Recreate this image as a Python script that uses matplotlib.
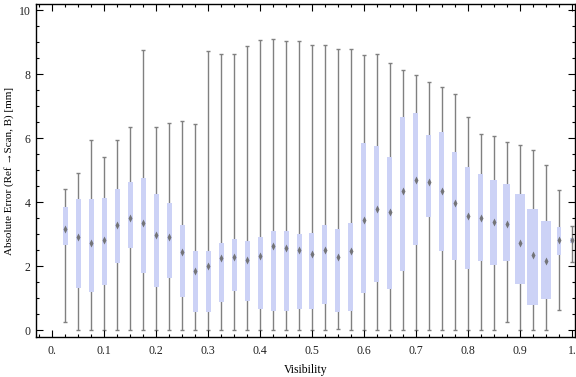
import matplotlib
matplotlib.use('Agg')
import matplotlib.pyplot as plt
from matplotlib.patches import Rectangle
from matplotlib.ticker import MultipleLocator, FixedLocator

# box-whisker stats per visibility bin
visibility = [0.025, 0.05, 0.075, 0.1, 0.125, 0.15, 0.175, 0.2, 0.225, 0.25,
              0.275, 0.3, 0.325, 0.35, 0.375, 0.4, 0.425, 0.45, 0.475, 0.5,
              0.525, 0.55, 0.575, 0.6, 0.625, 0.65, 0.675, 0.7, 0.725, 0.75,
              0.775, 0.8, 0.825, 0.85, 0.875, 0.9, 0.925, 0.95, 0.975, 1.0]
whisker_lo = [0.25, 0.02, 0.0, 0.0, 0.0, 0.0, 0.0, 0.0, 0.0, 0.0,
              0.0, 0.0, 0.0, 0.0, 0.0, 0.0, 0.0, 0.0, 0.0, 0.0,
              0.0, 0.05, 0.0, 0.0, 0.02, 0.0, 0.0, 0.0, 0.0, 0.0,
              0.0, 0.0, 0.0, 0.02, 0.27, 0.0, 0.0, 0.0, 0.63, 2.15]
q1 = [2.67, 1.32, 1.19, 1.43, 2.10, 2.58, 1.80, 1.36, 1.65, 1.03,
      0.57, 0.57, 0.89, 1.23, 0.92, 0.67, 0.59, 0.61, 0.65, 0.67,
      0.81, 0.57, 0.61, 1.17, 1.51, 1.29, 1.86, 2.67, 3.55, 2.49,
      2.20, 1.92, 2.17, 2.03, 2.18, 1.45, 0.79, 0.98, 2.36, 2.74]
median = [3.18, 2.92, 2.73, 2.82, 3.29, 3.50, 3.34, 2.98, 2.92, 2.44,
          1.85, 2.02, 2.27, 2.28, 2.19, 2.32, 2.63, 2.57, 2.52, 2.39,
          2.51, 2.30, 2.47, 3.45, 3.78, 3.69, 4.35, 4.70, 4.62, 4.36,
          3.98, 3.57, 3.51, 3.39, 3.31, 2.74, 2.36, 2.17, 2.81, 2.82]
q3 = [3.85, 4.10, 4.10, 4.12, 4.42, 4.64, 4.76, 4.26, 3.98, 3.28,
      2.48, 2.48, 2.73, 2.85, 2.79, 2.92, 3.10, 3.10, 3.01, 3.04,
      3.29, 3.17, 3.35, 5.85, 5.77, 5.41, 6.68, 6.80, 6.10, 6.20,
      5.57, 5.10, 4.89, 4.70, 4.58, 4.26, 3.78, 3.42, 3.22, 2.89]
whisker_hi = [4.41, 4.91, 5.95, 5.41, 5.95, 6.35, 8.76, 6.37, 6.48, 6.54,
              6.45, 8.73, 8.65, 8.65, 8.90, 9.08, 9.11, 9.05, 9.05, 8.92,
              8.92, 8.80, 8.80, 8.61, 8.65, 8.37, 8.14, 7.98, 7.77, 7.61,
              7.38, 6.67, 6.13, 6.07, 5.88, 5.79, 5.63, 5.17, 4.38, 3.25]

# drawn box widths in pixels
box_px = [5] * 33 + [7, 7, 10, 11, 10, 4.5, 4]

PX = 520.0  # pixels per unit visibility
BOX_COLOR = '#ccd2f6'
LINE_COLOR = '#808080'
MED_COLOR = '#6a6a6a'

plt.rcParams['font.family'] = ['Liberation Serif', 'DejaVu Serif']

fig = plt.figure(figsize=(5.76, 3.77), dpi=100)
ax = fig.add_axes([36 / 576, 1 - 337 / 377, 539 / 576, 333 / 377])

cap = 2.2 / PX
for x, lo, a, m, b, hi, w in zip(visibility, whisker_lo, q1, median, q3,
                                 whisker_hi, box_px):
    ax.vlines(x, lo, hi, color=LINE_COLOR, lw=1.0, zorder=1)
    ax.hlines([lo, hi], x - cap, x + cap, color=LINE_COLOR, lw=1.0, zorder=1)
    bw = w / PX
    ax.add_patch(Rectangle((x - bw / 2, a), bw, b - a, facecolor=BOX_COLOR,
                           edgecolor='none', zorder=2))
    ax.plot(x, m, marker='d', ms=4.2, color=MED_COLOR, mec='none',
            alpha=0.9, zorder=3)

ax.set_xlim(-0.031, 1.006)
ax.set_ylim(-0.21, 10.2)

ax.xaxis.set_major_locator(FixedLocator([i / 10 for i in range(11)]))
ax.set_xticklabels(['0.', '0.1', '0.2', '0.3', '0.4', '0.5', '0.6', '0.7',
                    '0.8', '0.9', '1.'])
ax.xaxis.set_minor_locator(MultipleLocator(0.025))
ax.yaxis.set_major_locator(MultipleLocator(2))
ax.yaxis.set_minor_locator(MultipleLocator(0.5))

ax.tick_params(which='both', direction='in', top=True, right=True,
               labelsize=8.5, labelcolor='#222222', width=0.8)
ax.tick_params(which='major', length=5)
ax.tick_params(axis='x', which='major', pad=6)
ax.tick_params(axis='y', which='major', pad=4)
ax.tick_params(which='minor', length=2.5)
for s in ax.spines.values():
    s.set_linewidth(1.0)

ax.set_xlabel('Visibility', fontsize=8.5, labelpad=5)
ax.set_ylabel('Absolute Error (Ref \u2192Scan, B) [mm]', fontsize=8,
              labelpad=3)

fig.savefig('out.png', dpi=100)
